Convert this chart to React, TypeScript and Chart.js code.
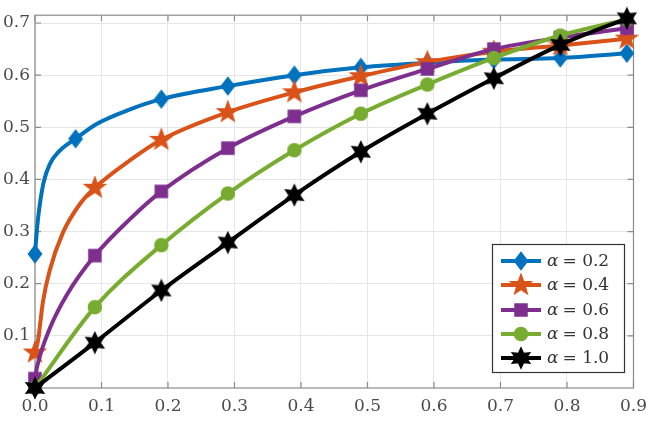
import React, { useEffect, useRef } from "react";
import { Chart, registerables } from "chart.js";

Chart.register(...registerables);

// ---- data ----
const xTickValues = [0.0, 0.1, 0.2, 0.3, 0.4, 0.5, 0.6, 0.7, 0.8, 0.9];
const yTickValues = [0.1, 0.2, 0.3, 0.4, 0.5, 0.6, 0.7];
const alphaLabels = ["0.2", "0.4", "0.6", "0.8", "1.0"];

const markerX = [0.0, 0.09, 0.19, 0.29, 0.39, 0.49, 0.59, 0.69, 0.79, 0.89];
const markerXBlue = [0.0, 0.061, 0.19, 0.29, 0.39, 0.49, 0.59, 0.69, 0.79, 0.89];

const alpha02 = [0.257, 0.478, 0.554, 0.579, 0.6, 0.615, 0.624, 0.63, 0.633, 0.642];
const alpha04 = [0.068, 0.384, 0.476, 0.529, 0.567, 0.598, 0.625, 0.645, 0.657, 0.67];
const alpha06 = [0.018, 0.254, 0.377, 0.46, 0.521, 0.571, 0.612, 0.65, 0.672, 0.69];
const alpha08 = [0.0, 0.155, 0.274, 0.373, 0.456, 0.526, 0.582, 0.633, 0.676, 0.707];
const alpha10 = [0.0, 0.087, 0.187, 0.279, 0.37, 0.453, 0.526, 0.594, 0.658, 0.709];

// extra curve points (no marker)
const curveX02 = [0.0025, 0.005, 0.0125, 0.0225, 0.037, 0.092, 0.142];
const curveY02 = [0.298, 0.33, 0.392, 0.43, 0.455, 0.506, 0.534];
const curveX04 = [0.0045, 0.012, 0.022, 0.042, 0.067, 0.142];
const curveY04 = [0.091, 0.166, 0.225, 0.298, 0.352, 0.436];
const curveX06 = [0.003, 0.0225, 0.048, 0.142];
const curveY06 = [0.04, 0.115, 0.179, 0.323];

const colors = ["#0072BD", "#D95319", "#7E2F8E", "#77AC30", "#000000"];
const markerKinds = ["diamond", "star5", "square", "circle", "star6"];

function makeMarker(kind: string, color: string): HTMLCanvasElement {
  const size = 24;
  const c = document.createElement("canvas");
  c.width = size;
  c.height = size;
  const ctx = c.getContext("2d")!;
  ctx.fillStyle = color;
  ctx.strokeStyle = color;
  ctx.lineWidth = 1.5;
  ctx.lineJoin = "miter";
  const cx = size / 2;
  const cy = size / 2;
  ctx.beginPath();
  if (kind === "diamond") {
    ctx.moveTo(cx, cy - 8.5);
    ctx.lineTo(cx + 6.5, cy);
    ctx.lineTo(cx, cy + 8.5);
    ctx.lineTo(cx - 6.5, cy);
  } else if (kind === "square") {
    ctx.rect(cx - 6, cy - 6, 12, 12);
  } else if (kind === "circle") {
    ctx.arc(cx, cy, 6.5, 0, Math.PI * 2);
  } else {
    const n = kind === "star5" ? 5 : 6;
    const R = kind === "star5" ? 10.5 : 10;
    const r = kind === "star5" ? 4.3 : 5.2;
    for (let i = 0; i < n * 2; i++) {
      const a = -Math.PI / 2 + (i * Math.PI) / n;
      const rr = i % 2 === 0 ? R : r;
      const px = cx + rr * Math.cos(a);
      const py = cy + rr * Math.sin(a);
      if (i === 0) ctx.moveTo(px, py);
      else ctx.lineTo(px, py);
    }
  }
  ctx.closePath();
  ctx.fill();
  ctx.stroke();
  return c;
}

type Pt = { x: number; y: number; m: boolean };

function buildSeries(mx: number[], my: number[], cx: number[] = [], cy: number[] = []): Pt[] {
  const pts: Pt[] = [];
  mx.forEach((x, i) => pts.push({ x, y: my[i], m: true }));
  cx.forEach((x, i) => pts.push({ x, y: cy[i], m: false }));
  pts.sort((a, b) => a.x - b.x);
  return pts;
}

export default function App() {
  const ref = useRef<HTMLCanvasElement | null>(null);

  useEffect(() => {
    document.body.style.margin = "0";
    const canvas = ref.current!;
    const markers = markerKinds.map((k, i) => makeMarker(k, colors[i]));

    const seriesData: Pt[][] = [
      buildSeries(markerXBlue, alpha02, curveX02, curveY02),
      buildSeries(markerX, alpha04, curveX04, curveY04),
      buildSeries(markerX, alpha06, curveX06, curveY06),
      buildSeries(markerX, alpha08),
      buildSeries(markerX, alpha10),
    ];

    const tickFont = { family: "'DejaVu Serif', serif", size: 17 };
    const tickColor = "#4a4a4a";
    const axisColor = "#8a8a8a";

    const framePlugin = {
      id: "frame",
      beforeDatasetsDraw(chart: any) {
        const { ctx, chartArea: a, scales } = chart;
        ctx.save();
        ctx.strokeStyle = axisColor;
        ctx.lineWidth = 1.2;
        ctx.strokeRect(a.left, a.top, a.right - a.left, a.bottom - a.top);
        ctx.beginPath();
        xTickValues.forEach((v) => {
          const px = scales.x.getPixelForValue(v);
          ctx.moveTo(px, a.bottom);
          ctx.lineTo(px, a.bottom - 6);
          ctx.moveTo(px, a.top);
          ctx.lineTo(px, a.top + 6);
        });
        yTickValues.forEach((v) => {
          const py = scales.y.getPixelForValue(v);
          ctx.moveTo(a.left, py);
          ctx.lineTo(a.left + 6, py);
          ctx.moveTo(a.right, py);
          ctx.lineTo(a.right - 6, py);
        });
        ctx.stroke();
        ctx.restore();
      },
    };

    const legendPlugin = {
      id: "customLegend",
      afterDraw(chart: any) {
        const ctx = chart.ctx as CanvasRenderingContext2D;
        const lx = 492, ly = 244, lw = 132, lh = 128;
        ctx.save();
        ctx.fillStyle = "#ffffff";
        ctx.fillRect(lx, ly, lw, lh);
        ctx.strokeStyle = "#333333";
        ctx.lineWidth = 1.2;
        ctx.strokeRect(lx + 0.5, ly + 0.5, lw, lh);
        const rowY = [261, 285, 310, 334, 358];
        alphaLabels.forEach((lab, i) => {
          const y = rowY[i];
          ctx.strokeStyle = colors[i];
          ctx.lineWidth = 4;
          ctx.lineCap = "butt";
          ctx.beginPath();
          ctx.moveTo(501, y);
          ctx.lineTo(541, y);
          ctx.stroke();
          const mk = markers[i];
          ctx.drawImage(mk, 521 - mk.width / 2, y - mk.height / 2);
          ctx.fillStyle = "#333333";
          ctx.textBaseline = "middle";
          ctx.textAlign = "left";
          ctx.font = "italic 17px 'DejaVu Serif', serif";
          ctx.fillText("α", 547, y + 1);
          const aw = ctx.measureText("α").width;
          ctx.font = "17px 'DejaVu Serif', serif";
          ctx.fillText("= " + lab, 547 + aw + 4, y + 1);
        });
        ctx.restore();
      },
    };

    const chart = new Chart(canvas, {
      type: "line",
      data: {
        datasets: seriesData.map((d, i) => ({
          label: "α = " + alphaLabels[i],
          data: d as any,
          borderColor: colors[i],
          backgroundColor: colors[i],
          borderWidth: 4,
          cubicInterpolationMode: "monotone" as const,
          clip: false as any,
          order: 4 - i,
          pointStyle: (c: any) => (c.raw && c.raw.m ? markers[i] : "circle"),
          pointRadius: (c: any) => (c.raw && c.raw.m ? 7 : 0),
          pointHoverRadius: 0,
        })),
      },
      options: {
        responsive: false,
        animation: false,
        events: [],
        layout: { padding: { top: 9, right: 18, left: 0, bottom: 0 } },
        plugins: {
          legend: { display: false },
          tooltip: { enabled: false },
        },
        scales: {
          x: {
            type: "linear",
            min: 0,
            max: 0.9,
            afterBuildTicks: (s: any) => {
              s.ticks = xTickValues.map((v) => ({ value: v }));
            },
            afterFit: (s: any) => {
              s.height = 37;
            },
            ticks: {
              callback: (v: any) => Number(v).toFixed(1),
              font: tickFont,
              color: tickColor,
              maxRotation: 0,
              autoSkip: false,
              padding: 8,
            },
            grid: { color: "#e6e6e6", drawTicks: false, lineWidth: 1 },
            border: { display: false },
          },
          y: {
            type: "linear",
            min: 0,
            max: 0.715,
            afterBuildTicks: (s: any) => {
              s.ticks = yTickValues.map((v) => ({ value: v }));
            },
            afterFit: (s: any) => {
              s.width = 35;
            },
            ticks: {
              callback: (v: any) => Number(v).toFixed(1),
              font: tickFont,
              color: tickColor,
              autoSkip: false,
              padding: 5,
            },
            grid: { color: "#e6e6e6", drawTicks: false, lineWidth: 1 },
            border: { display: false },
          },
        },
      },
      plugins: [framePlugin, legendPlugin],
    });

    return () => chart.destroy();
  }, []);

  return <canvas ref={ref} width={655} height={425} style={{ display: "block" }} />;
}
